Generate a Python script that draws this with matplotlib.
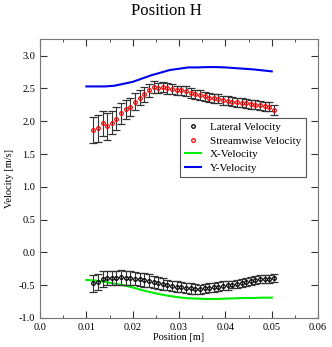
import numpy as np
import matplotlib
matplotlib.use("Agg")
import matplotlib.pyplot as plt
from matplotlib.ticker import MultipleLocator, FuncFormatter

plt.rcParams['font.family'] = ['Liberation Serif', 'DejaVu Serif']

# measured points
pos = [0.0115 + 0.001 * i for i in range(40)]
streamwise = [1.87, 1.89, 1.97, 1.92, 1.98, 2.04, 2.12, 2.18, 2.22, 2.30,
              2.36, 2.41, 2.47, 2.52, 2.51, 2.52, 2.50, 2.49, 2.47, 2.47,
              2.46, 2.43, 2.41, 2.40, 2.38, 2.36, 2.35, 2.34, 2.32, 2.31,
              2.30, 2.29, 2.28, 2.27, 2.26, 2.25, 2.24, 2.23, 2.22, 2.17]
streamwise_err = [0.20, 0.20, 0.19, 0.20, 0.18, 0.17, 0.16, 0.15, 0.14, 0.13,
                  0.12, 0.11, 0.10, 0.09, 0.08, 0.08, 0.08, 0.08, 0.07, 0.07,
                  0.07, 0.07, 0.07, 0.07, 0.07, 0.07, 0.07, 0.07, 0.07, 0.07,
                  0.07, 0.07, 0.07, 0.07, 0.07, 0.07, 0.07, 0.07, 0.07, 0.08]
lateral = [-0.47, -0.45, -0.41, -0.39, -0.39, -0.39, -0.38, -0.39, -0.39, -0.40,
           -0.41, -0.42, -0.43, -0.45, -0.47, -0.48, -0.50, -0.51, -0.52, -0.53,
           -0.54, -0.55, -0.56, -0.56, -0.55, -0.54, -0.53, -0.52, -0.51, -0.50,
           -0.49, -0.48, -0.46, -0.45, -0.43, -0.42, -0.41, -0.40, -0.40, -0.39]
lateral_err = [0.13, 0.12, 0.12, 0.11, 0.11, 0.11, 0.11, 0.10, 0.10, 0.10,
               0.10, 0.10, 0.10, 0.09, 0.09, 0.09, 0.08, 0.08, 0.08, 0.08,
               0.08, 0.08, 0.08, 0.07, 0.07, 0.07, 0.07, 0.07, 0.07, 0.07,
               0.06, 0.06, 0.06, 0.06, 0.06, 0.06, 0.06, 0.06, 0.06, 0.06]

# simulated lines
line_x = [0.010, 0.012, 0.014, 0.016, 0.018, 0.020, 0.022, 0.024, 0.026, 0.028,
          0.030, 0.032, 0.034, 0.036, 0.038, 0.040, 0.042, 0.044, 0.046, 0.048, 0.050]
x_vel = [-0.42, -0.43, -0.45, -0.475, -0.50, -0.535, -0.575, -0.61, -0.64, -0.665,
         -0.685, -0.70, -0.705, -0.71, -0.71, -0.705, -0.70, -0.695, -0.695, -0.69, -0.69]
y_vel = [2.53, 2.53, 2.53, 2.54, 2.57, 2.60, 2.65, 2.70, 2.74, 2.78,
         2.80, 2.82, 2.82, 2.825, 2.825, 2.82, 2.81, 2.80, 2.79, 2.775, 2.76]

fig = plt.figure(figsize=(3.32, 3.47), dpi=100)
ax = fig.add_axes([0.1205, 0.0836, 0.8375, 0.8034])

def eb(y, err, color):
    l, caps, bars = ax.errorbar(pos, y, yerr=err, fmt='o', ms=2.6, mfc='none',
                                mec=color, mew=0.9, ecolor='#333333', elinewidth=0.8,
                                capsize=3, capthick=1.0, zorder=3)
    for c in caps:
        c.set_color('#999999')
    return l

h1 = eb(lateral, lateral_err, 'black')
h2 = eb(streamwise, streamwise_err, 'red')
h3, = ax.plot(line_x, x_vel, color='#00ee00', lw=1.5)
h4, = ax.plot(line_x, y_vel, color='#0000ee', lw=1.5)

ax.set_xlim(0, 0.06)
ax.set_ylim(-1.0, 3.25)
ax.xaxis.set_major_locator(MultipleLocator(0.01))
ax.xaxis.set_minor_locator(MultipleLocator(0.005))
ax.yaxis.set_major_locator(MultipleLocator(0.5))
ax.xaxis.set_major_formatter(FuncFormatter(lambda v, p: "0.0" if abs(v) < 1e-9 else f"{v:.2f}"))
ax.yaxis.set_major_formatter(FuncFormatter(lambda v, p: f"{v:.1f}"))
ax.tick_params(which='both', direction='in', top=True, right=True, labelsize=7.5,
               colors='#333333', labelcolor='black')
ax.tick_params(which='major', length=5)
ax.tick_params(which='minor', length=2.5)
for s in ax.spines.values():
    s.set_color('#777777')
    s.set_linewidth(0.8)

ax.set_xlabel('Position [m]', fontsize=7.5, labelpad=1)
ax.set_ylabel('Velocity [m/s]', fontsize=7.5, labelpad=3)
fig.suptitle('Position H', fontsize=12, y=0.99)

leg = ax.legend([h1, h2, h3, h4],
                ['Lateral Velocity', 'Streamwise Velocity', 'X-Velocity', 'Y-Velocity'],
                loc='upper left', bbox_to_anchor=(0.504, 0.718), borderaxespad=0,
                fontsize=8, fancybox=False, framealpha=1, edgecolor='#555555',
                handlelength=1.5, borderpad=0.4, labelspacing=0.35, handletextpad=0.8)
leg.get_frame().set_linewidth(0.8)

fig.savefig('out.png', dpi=100)
